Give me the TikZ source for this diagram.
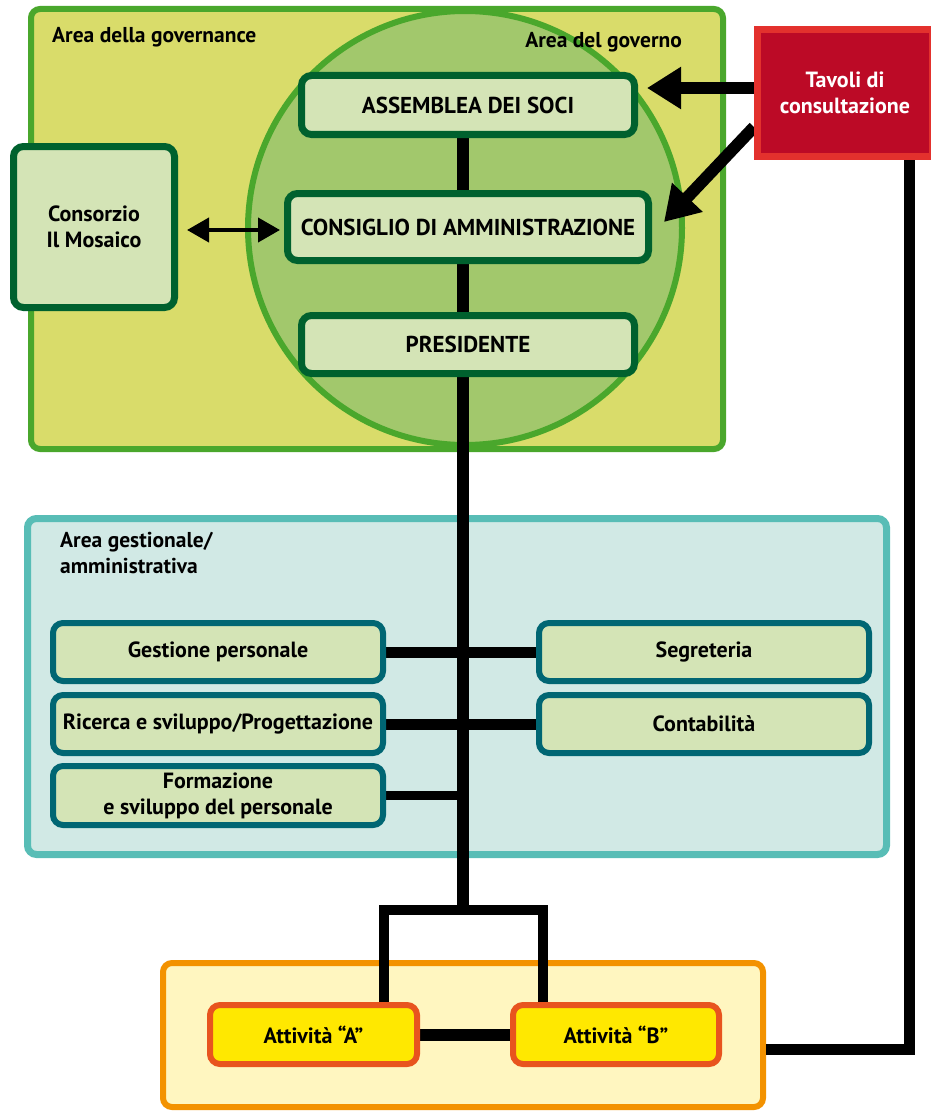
\documentclass[tikz,border=0pt]{standalone}
\usepackage{fontspec}
\setmainfont{PT Sans}
\usetikzlibrary{arrows.meta,calc}
\definecolor{govfill}{HTML}{D9DC6A}
\definecolor{govline}{HTML}{4AA72C}
\definecolor{circfill}{HTML}{A2C86C}
\definecolor{dkgreen}{HTML}{00612E}
\definecolor{boxfill}{HTML}{D4E4B6}
\definecolor{tavline}{HTML}{E3312D}
\definecolor{tavfill}{HTML}{BC0A26}
\definecolor{mgfill}{HTML}{D1E9E5}
\definecolor{mgline}{HTML}{58BDB6}
\definecolor{tealb}{HTML}{006673}
\definecolor{actfill}{HTML}{FFF6C0}
\definecolor{actline}{HTML}{F39200}
\definecolor{ylw}{HTML}{FFE800}
\definecolor{orred}{HTML}{E8541E}
\pgfdeclarelayer{bg}
\pgfdeclarelayer{lines}
\pgfsetlayers{bg,lines,main}
\begin{document}
\begin{tikzpicture}[x=1pt,y=-1pt,
  txt/.style={font=\bfseries\fontsize{22}{26}\selectfont, align=center, text=black},
  captxt/.style={font=\bfseries\fontsize{23}{26}\selectfont, align=center, text=black},
  area/.style={rectangle, rounded corners=9pt, line width=6pt, inner sep=0pt},
  govbox/.style={rectangle, rounded corners=10pt, draw=dkgreen, fill=boxfill, line width=7pt, txt},
  mgbox/.style={rectangle, rounded corners=10pt, draw=tealb, fill=boxfill, line width=6pt, txt, minimum width=330pt, minimum height=58pt},
  actbox/.style={rectangle, rounded corners=10pt, draw=orred, fill=ylw, line width=6pt, txt, minimum width=207pt, minimum height=59pt},
  lbl/.style={font=\bfseries\fontsize{21.5}{26}\selectfont, inner sep=0pt, text=black, align=left},
  conn/.style={line width=12pt, draw=black},
  bigarrow/.style={line width=12pt, draw=black, -{Triangle[length=34pt,width=40pt]}},
]
\useasboundingbox (0,0) rectangle (930,1113);
\begin{pgfonlayer}{bg}
\node[area, draw=govline, fill=govfill, minimum width=692pt, minimum height=440pt] (gov) at (377,229) {};
\node[circle, draw=govline, fill=circfill, line width=6pt, minimum size=434pt, inner sep=0pt] (circ) at (465,228) {};
\node[area, draw=mgline, fill=mgfill, line width=7pt, minimum width=859pt, minimum height=336pt] (mg) at (457,686.5) {};
\node[area, draw=actline, fill=actfill, minimum width=600pt, minimum height=144pt] (act) at (463,1035) {};
\node[lbl, anchor=base west] (lgov) at (52,43) {Area della governance};
\node[lbl, anchor=base east] (lgvn) at (682,48) {Area del governo};
\node[lbl, anchor=north west] (lmg) at (60,532) {Area gestionale/\\amministrativa};
\end{pgfonlayer}

\node[govbox, captxt, minimum width=333pt, minimum height=59pt] (ass) at (468,105) {ASSEMBLEA DEI SOCI};
\node[govbox, captxt, minimum width=361pt, minimum height=67pt] (cons) at (468,227) {CONSIGLIO DI AMMINISTRAZIONE};
\node[govbox, captxt, minimum width=333pt, minimum height=58pt] (pres) at (468,344.5) {PRESIDENTE};
\node[govbox, minimum width=161pt, minimum height=161pt] (mos) at (94,227) {Consorzio\\Il Mosaico};
\node[rectangle, draw=tavline, fill=tavfill, line width=7pt, minimum width=175pt, minimum height=127pt, txt, text=white] (tav) at (845,93) {Tavoli di\\consultazione};

\node[mgbox] (gp) at (218,652) {Gestione personale};
\node[mgbox] (rs) at (218,724) {Ricerca e sviluppo/Progettazione};
\node[mgbox, minimum height=59pt] (fo) at (218,795.5) {Formazione\\e sviluppo del personale};
\node[mgbox] (seg) at (704,652) {Segreteria};
\node[mgbox] (cont) at (704,724) {Contabilità};

\node[actbox] (A) at (313.5,1034.5) {Attività “A”};
\node[actbox, minimum width=206pt] (B) at (616,1034.5) {Attività “B”};

\begin{pgfonlayer}{lines}
\coordinate (fork) at (463,910);
\coordinate (fl) at (384,910);
\coordinate (fr) at (543,910);
\draw[conn] (ass.south -| fork) -- (fork);
\draw[line width=10pt, line join=miter] (A.north -| fl) -- (fl) -- (fr) -- (B.north -| fr);
\draw[line width=11pt] (gp.east) -- (seg.west);
\draw[line width=11pt] (rs.east) -- (cont.west);
\draw[line width=9pt] (fo.east) -- (fo.east -| fork);
\draw[conn] (A.east) -- (B.west);
\coordinate (tc) at (909,1049);
\draw[line width=11pt, line join=miter] (tav.south -| tc) -- (tc) -- (act.east |- tc);
\coordinate (a1) at (0,88);
\draw[bigarrow, shorten >=9pt] (tav.west |- a1) -- (ass.east |- a1);
\coordinate (a2s) at ($(tav.west)+(0,34)$);
\coordinate (a2e) at ($(cons.east)+(12,-5)$);
\draw[bigarrow] (a2s) -- (a2e);
\coordinate (dy) at (0,230);
\draw[line width=4pt, {Triangle[length=22pt,width=24pt]}-{Triangle[length=22pt,width=24pt]}, shorten <=9pt, shorten >=4pt] (mos.east |- dy) -- (cons.west |- dy);
\end{pgfonlayer}
\end{tikzpicture}
\end{document}
